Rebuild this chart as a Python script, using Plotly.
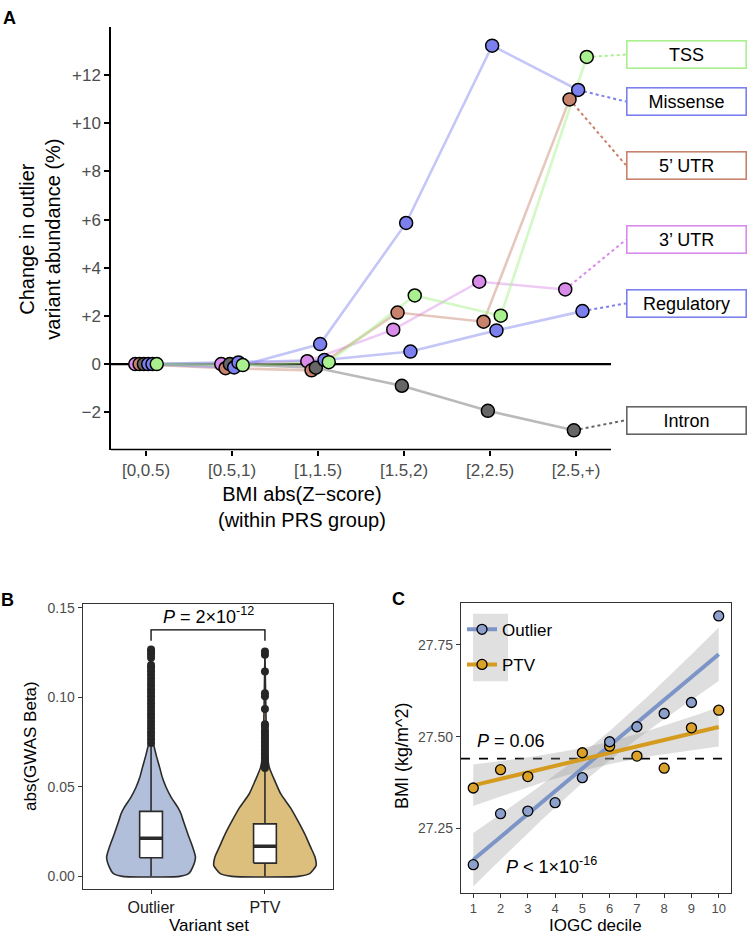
import numpy as np
import plotly.graph_objects as go

W, H = 748, 935
FONT = "Liberation Sans"

# ---------------- Panel A data ----------------
zbins = ["[0,0.5)", "[0.5,1)", "[1,1.5)", "[1.5,2)", "[2,2.5)", "[2.5,+)"]
variant_types = ["3’ UTR", "5’ UTR", "Intron", "Missense", "Regulatory", "TSS"]
change_utr3 = [0.0, 0.0, 0.12, 1.43, 3.42, 3.10]
change_utr5 = [0.0, -0.17, -0.26, 2.14, 1.76, 10.99]
change_intron = [0.0, 0.0, -0.15, -0.90, -1.94, -2.75]
change_missense = [0.0, -0.14, 0.83, 5.86, 13.22, 11.38]
change_regulatory = [0.0, 0.07, 0.17, 0.52, 1.40, 2.20]
change_tss = [0.0, -0.04, 0.08, 2.85, 2.01, 12.75]
label_y = [5.16, 8.26, -2.33, 10.9, 2.52, 12.85]
colors_A = ["#D98BE9", "#C8826C", "#666666", "#7C80EE", "#7C80EE", "#A9F18E"]
line_colors_A = ["rgba(217,139,233,0.45)", "rgba(200,130,108,0.45)", "rgba(102,102,102,0.45)",
                 "rgba(124,128,238,0.45)", "rgba(124,128,238,0.45)", "rgba(169,241,142,0.5)"]
yticks_A = [-2, 0, 2, 4, 6, 8, 10, 12]
ytick_text_A = ["−2", "0", "+2", "+4", "+6", "+8", "+10", "+12"]

# ---------------- Panel B data ----------------
variant_sets = ["Outlier", "PTV"]
box_q1 = [0.0104, 0.0074]
box_median = [0.0213, 0.0168]
box_q3 = [0.0363, 0.0293]
box_low = [0.0, 0.0]
box_high = [0.0745, 0.0605]
violin_y_outlier = [0.0, 0.0015, 0.005, 0.0107, 0.0163, 0.0237, 0.031, 0.0348, 0.0385,
                    0.0441, 0.0496, 0.055, 0.0607, 0.068, 0.0756, 0.09, 0.11, 0.1267]
violin_hw_outlier = [0.25, 0.33, 0.365, 0.39, 0.366, 0.323, 0.283, 0.264, 0.235,
                     0.177, 0.133, 0.1, 0.076, 0.044, 0.017, 0.009, 0.005, 0.0]
violin_y_ptv = [0.0, 0.0015, 0.0061, 0.0107, 0.0163, 0.0237, 0.0311, 0.0385, 0.046,
                0.0533, 0.0607, 0.07, 0.09, 0.1256]
violin_hw_ptv = [0.29, 0.392, 0.449, 0.44, 0.401, 0.349, 0.288, 0.222, 0.139,
                 0.087, 0.039, 0.017, 0.009, 0.0]
outliers_outlier = [0.0745, 0.0765, 0.0785, 0.0805, 0.0825, 0.0845, 0.0865, 0.0885, 0.0905,
                    0.0925, 0.0945, 0.0965, 0.0985, 0.1005, 0.1025, 0.1045, 0.1065, 0.1085,
                    0.1105, 0.1125, 0.1145, 0.1165, 0.118, 0.122, 0.124, 0.1255, 0.1267]
outliers_ptv = [0.0605, 0.062, 0.0635, 0.065, 0.0665, 0.068, 0.0695, 0.071, 0.0725, 0.074,
                0.0755, 0.077, 0.0785, 0.080, 0.0815, 0.0835, 0.085, 0.0935, 0.1005, 0.1022,
                0.1144, 0.1237, 0.1256]
bracket_low, bracket_high = 0.1315, 0.1376
box_width = 0.2

# ---------------- Panel C data ----------------
decile = list(range(1, 11))
bmi_outlier = [27.151, 27.290, 27.297, 27.320, 27.388, 27.486, 27.527, 27.563, 27.593, 27.829]
bmi_ptv = [27.360, 27.410, 27.391, None, 27.456, 27.474, 27.447, 27.414, 27.524, 27.572]
bmi_reference = 27.44
t_crit = {8: 2.306, 7: 2.365}


def px_x(px):
    return px / W


def px_y(py):
    return 1 - py / H


fig = go.Figure()

# ---------- Panel A ----------
series_A = [change_utr3, change_utr5, change_intron, change_missense, change_regulatory, change_tss]
dodge = 0.05
cat_pos = np.arange(len(zbins))
box_left = 5.58
for i, vals in enumerate(series_A):
    off = (i - 2.5) * dodge
    fig.add_trace(go.Scatter(x=cat_pos + off, y=vals, mode="lines",
                             line=dict(color=line_colors_A[i], width=2.6),
                             showlegend=False, hoverinfo="skip", xaxis="x", yaxis="y"))
for i, vals in enumerate(series_A):
    off = (i - 2.5) * dodge
    fig.add_trace(go.Scatter(x=[cat_pos[-1] + off, box_left], y=[vals[-1], label_y[i]], mode="lines",
                             line=dict(color=colors_A[i], width=2, dash="dot"),
                             showlegend=False, hoverinfo="skip", xaxis="x", yaxis="y"))
for i, vals in enumerate(series_A):
    off = (i - 2.5) * dodge
    fig.add_trace(go.Scatter(x=cat_pos + off, y=vals, mode="markers",
                             marker=dict(color=colors_A[i], size=13, line=dict(color="black", width=1.5)),
                             showlegend=False, name=variant_types[i], xaxis="x", yaxis="y"))

# ---------- Panel B ----------
fills_B = ["#B2BFDA", "#DDBF7D"]
edge_B = "#2b2b2b"
violins = [(violin_y_outlier, violin_hw_outlier), (violin_y_ptv, violin_hw_ptv)]
for k, (vy, vh) in enumerate(violins):
    pos = k + 1
    xs = [pos + h for h in vh] + [pos - h for h in reversed(vh)]
    ys = list(vy) + list(reversed(vy))
    fig.add_trace(go.Scatter(x=xs + [xs[0]], y=ys + [ys[0]], mode="lines", fill="toself",
                             fillcolor=fills_B[k], line=dict(color=edge_B, width=1.6, shape="spline", smoothing=0.6),
                             showlegend=False, hoverinfo="skip", xaxis="x2", yaxis="y2"))
for k in range(2):
    pos = k + 1
    hb = box_width / 2
    fig.add_trace(go.Scatter(x=[pos, pos, None, pos, pos], y=[box_low[k], box_q1[k], None, box_q3[k], box_high[k]],
                             mode="lines", line=dict(color=edge_B, width=1.6), showlegend=False,
                             hoverinfo="skip", xaxis="x2", yaxis="y2"))
    fig.add_trace(go.Scatter(x=[pos - hb, pos + hb, pos + hb, pos - hb, pos - hb],
                             y=[box_q1[k], box_q1[k], box_q3[k], box_q3[k], box_q1[k]],
                             mode="lines", fill="toself", fillcolor="white",
                             line=dict(color=edge_B, width=1.6), showlegend=False,
                             hoverinfo="skip", xaxis="x2", yaxis="y2"))
    fig.add_trace(go.Scatter(x=[pos - hb, pos + hb], y=[box_median[k]] * 2, mode="lines",
                             line=dict(color=edge_B, width=3.5), showlegend=False,
                             hoverinfo="skip", xaxis="x2", yaxis="y2"))
for k, pts in enumerate([outliers_outlier, outliers_ptv]):
    fig.add_trace(go.Scatter(x=[k + 1] * len(pts), y=pts, mode="markers",
                             marker=dict(color="#262626", size=8), showlegend=False,
                             xaxis="x2", yaxis="y2"))
fig.add_trace(go.Scatter(x=[1, 1, 2, 2], y=[bracket_low, bracket_high, bracket_high, bracket_low],
                         mode="lines", line=dict(color="black", width=1.3), showlegend=False,
                         hoverinfo="skip", xaxis="x2", yaxis="y2"))

# ---------- Panel C ----------
pt_col = {"Outlier": "#8DA0CB", "PTV": "#DAA22B"}
ln_col = {"Outlier": "#7D95C6", "PTV": "#D49B1F"}
series_C = {"Outlier": bmi_outlier, "PTV": bmi_ptv}
xs_grid = np.linspace(1, 10, 60)
fits = {}
for name, vals in series_C.items():
    x = np.array([d for d, v in zip(decile, vals) if v is not None], float)
    y = np.array([v for v in vals if v is not None], float)
    b, a = np.polyfit(x, y, 1)
    resid = y - (a + b * x)
    n = len(x)
    s = np.sqrt(np.sum(resid ** 2) / (n - 2))
    se = s * np.sqrt(1 / n + (xs_grid - x.mean()) ** 2 / np.sum((x - x.mean()) ** 2))
    fit = a + b * xs_grid
    hw = t_crit[n - 2] * se
    fits[name] = (fit, hw)
    fig.add_trace(go.Scatter(x=np.concatenate([xs_grid, xs_grid[::-1]]),
                             y=np.concatenate([fit + hw, (fit - hw)[::-1]]),
                             fill="toself", fillcolor="rgba(153,153,153,0.32)", line=dict(width=0),
                             mode="lines", showlegend=False, hoverinfo="skip", xaxis="x3", yaxis="y3"))
for name in ["Outlier", "PTV"]:
    fit, hw = fits[name]
    fig.add_trace(go.Scatter(x=xs_grid, y=fit, mode="lines", line=dict(color=ln_col[name], width=4),
                             showlegend=False, hoverinfo="skip", xaxis="x3", yaxis="y3"))
for name in ["PTV", "Outlier"]:
    fig.add_trace(go.Scatter(x=decile, y=series_C[name], mode="markers",
                             marker=dict(color=pt_col[name], size=10, line=dict(color="black", width=1.3)),
                             showlegend=False, xaxis="x3", yaxis="y3"))
for name in ["Outlier", "PTV"]:
    fig.add_trace(go.Scatter(x=[None], y=[None], mode="lines+markers", name=name,
                             legendgroup=name,
                             line=dict(color=ln_col[name], width=4),
                             marker=dict(color=pt_col[name], size=10, line=dict(color="black", width=1.3)),
                             xaxis="x3", yaxis="y3"))

# ---------- Layout ----------
tick_gray = "#4d4d4d"
common = dict(showgrid=False, zeroline=False, ticks="outside")
fig.update_layout(
    width=W, height=H, margin=dict(l=0, r=0, t=0, b=0),
    paper_bgcolor="white", plot_bgcolor="rgba(0,0,0,0)",
    font=dict(family=FONT, color="black"),
    xaxis=dict(domain=[px_x(111), 1.0], range=[-0.407, 7.0], anchor="y", tickvals=list(cat_pos),
               ticktext=zbins, ticklen=5, tickwidth=1.5, tickcolor="black", showline=False,
               tickfont=dict(size=17, color=tick_gray), **common),
    yaxis=dict(domain=[px_y(447), px_y(22)], range=[-3.55, 14.0], anchor="x", tickvals=yticks_A,
               ticktext=ytick_text_A, ticklen=5, tickwidth=1.5, tickcolor="black", showline=True,
               linecolor="black", linewidth=1.5, tickfont=dict(size=17, color=tick_gray), **common),
    xaxis2=dict(domain=[px_x(82.7), px_x(333.3)], range=[0.4, 2.6], anchor="y2", tickvals=[1, 2],
                ticktext=variant_sets, ticklen=4, tickwidth=1.2, tickcolor="#333", showline=True,
                mirror=True, linecolor="#333", linewidth=1.2, tickfont=dict(size=16, color="#1a1a1a"), **common),
    yaxis2=dict(domain=[px_y(888.3), px_y(602.7)], range=[-0.0068, 0.1518], anchor="x2",
                tickvals=[0, 0.05, 0.10, 0.15], ticktext=["0.00", "0.05", "0.10", "0.15"],
                ticklen=4, tickwidth=1.2, tickcolor="#333", showline=True, mirror=True,
                linecolor="#333", linewidth=1.2, tickfont=dict(size=14, color=tick_gray), **common),
    xaxis3=dict(domain=[px_x(461), px_x(731)], range=[0.55, 10.45], anchor="y3", tickvals=decile,
                ticklen=4, tickwidth=1.2, tickcolor="#333", showline=True, mirror=True,
                linecolor="#333", linewidth=1.2, tickfont=dict(size=13, color=tick_gray), **common),
    yaxis3=dict(domain=[px_y(892.3), px_y(601.7)], range=[27.075, 27.863], anchor="x3",
                tickvals=[27.25, 27.5, 27.75], ticktext=["27.25", "27.50", "27.75"],
                ticklen=4, tickwidth=1.2, tickcolor="#333", showline=True, mirror=True,
                linecolor="#333", linewidth=1.2, tickfont=dict(size=14, color=tick_gray), **common),
    legend=dict(x=px_x(462), y=px_y(610), xanchor="left", yanchor="top", bgcolor="rgba(0,0,0,0)",
                font=dict(size=17, family=FONT), tracegroupgap=10, itemwidth=30),
)

shapes = [
    dict(type="line", xref="x", yref="y domain", x0=-0.407, x1=5.407, y0=0, y1=0,
         line=dict(color="black", width=1.5)),
    dict(type="line", xref="x", yref="y", x0=-0.407, x1=5.407, y0=0, y1=0,
         line=dict(color="black", width=2.2), layer="below"),
    dict(type="line", xref="x3 domain", yref="y3", x0=0, x1=1, y0=bmi_reference, y1=bmi_reference,
         line=dict(color="black", width=1.8, dash="dash"), layer="below"),
    dict(type="rect", xref="paper", yref="paper", x0=px_x(473), x1=px_x(508), y0=px_y(680), y1=px_y(612),
         fillcolor="#E0E0E0", line=dict(width=0), layer="below"),
]
fig.update_layout(shapes=shapes)

ann = []
for letter, x, y in [("A", 9, 13), ("B", 8, 598), ("C", 398, 597)]:
    ann.append(dict(text=f"<b>{letter}</b>", x=px_x(x), y=px_y(y), xref="paper", yref="paper",
                    showarrow=False, font=dict(size=18, color="black"), xanchor="center", yanchor="middle"))
ann.append(dict(text="Change in outlier<br>variant abundance (%)", x=px_x(40), y=px_y(236),
                xref="paper", yref="paper", textangle=-90, showarrow=False,
                font=dict(size=20), xanchor="center", yanchor="middle"))
ann.append(dict(text="BMI abs(Z−score)<br>(within PRS group)", x=px_x(302), y=px_y(505),
                xref="paper", yref="paper", showarrow=False, font=dict(size=20),
                xanchor="center", yanchor="middle"))
for i, name in enumerate(variant_types):
    ann.append(dict(text=name, x=6.28, y=label_y[i], xref="x", yref="y", showarrow=False,
                    font=dict(size=18, color="black"), bgcolor="white", bordercolor=colors_A[i],
                    borderwidth=1.6, borderpad=2, width=114, height=22, xanchor="center", yanchor="middle"))
ann.append(dict(text="<i>P</i> = 2×10<sup>-12</sup>", x=1.5, y=bracket_high, xref="x2", yref="y2",
                showarrow=False, font=dict(size=18), xanchor="center", yanchor="bottom", yshift=1))
ann.append(dict(text="abs(GWAS Beta)", x=px_x(30), y=px_y(745), xref="paper", yref="paper",
                textangle=-90, showarrow=False, font=dict(size=17), xanchor="center", yanchor="middle"))
ann.append(dict(text="Variant set", x=px_x(209), y=px_y(925), xref="paper", yref="paper",
                showarrow=False, font=dict(size=17), xanchor="center", yanchor="middle"))
ann.append(dict(text="BMI (kg/m^2)", x=px_x(402), y=px_y(755), xref="paper", yref="paper",
                textangle=-90, showarrow=False, font=dict(size=18), xanchor="center", yanchor="middle"))
ann.append(dict(text="IOGC decile", x=px_x(595), y=px_y(925), xref="paper", yref="paper",
                showarrow=False, font=dict(size=17), xanchor="center", yanchor="middle"))
ann.append(dict(text="<i>P</i> = 0.06", x=2.38, y=27.488, xref="x3", yref="y3", showarrow=False,
                font=dict(size=18), xanchor="center", yanchor="middle"))
ann.append(dict(text="<i>P</i> < 1×10<sup>-16</sup>", x=3.85, y=27.15, xref="x3", yref="y3",
                showarrow=False, font=dict(size=18), xanchor="center", yanchor="middle"))
fig.update_layout(annotations=ann)

fig.write_html("out.html", config={"displayModeBar": False},
               post_script="document.body.style.margin='0';")
